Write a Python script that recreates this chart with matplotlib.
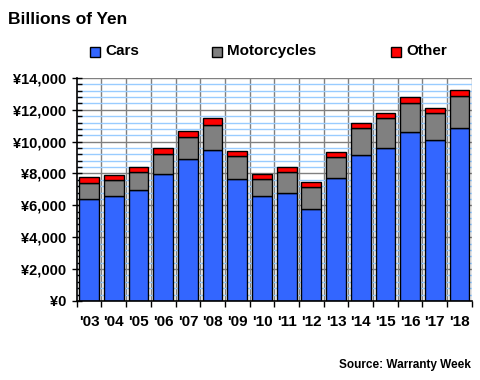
import matplotlib.pyplot as plt
import numpy as np
from matplotlib.ticker import FuncFormatter, MultipleLocator, FixedLocator

plt.rcParams['font.family'] = ['Liberation Sans', 'DejaVu Sans']
plt.rcParams['font.weight'] = 'bold'

years = ["'03", "'04", "'05", "'06", "'07", "'08", "'09", "'10",
         "'11", "'12", "'13", "'14", "'15", "'16", "'17", "'18"]
cars = [6400, 6580, 6960, 7970, 8910, 9480, 7650, 6580,
        6770, 5770, 7710, 9160, 9600, 10610, 10100, 10860]
motorcycles = [1000, 1010, 1130, 1250, 1380, 1570, 1450, 1070,
               1320, 1380, 1330, 1700, 1890, 1820, 1700, 2010]
other = [380, 330, 320, 380, 380, 440, 330, 320,
         320, 310, 310, 310, 310, 380, 320, 380]
names = ['Cars', 'Motorcycles', 'Other']

c_cars = '#3366ff'
c_moto = '#808080'
c_other = '#ff0000'

fig = plt.figure(figsize=(4.8, 3.8), dpi=100)
ax = fig.add_axes([0.160, 0.208, 0.823, 0.587])

x = np.arange(len(years))
cars = np.array(cars)
motorcycles = np.array(motorcycles)
other = np.array(other)
kw = dict(width=0.8, edgecolor='black', linewidth=1.0, zorder=3)
ax.bar(x, cars, color=c_cars, **kw)
ax.bar(x, motorcycles, bottom=cars, color=c_moto, **kw)
ax.bar(x, other, bottom=cars + motorcycles, color=c_other, **kw)

ax.set_xlim(-0.5, len(years) - 0.5)
ax.set_ylim(0, 14000)

ax.yaxis.set_major_locator(MultipleLocator(2000))
ax.yaxis.set_minor_locator(MultipleLocator(400))
ax.yaxis.set_major_formatter(FuncFormatter(lambda v, p: f'\u00a5{int(v):,}'))
ax.grid(axis='y', which='minor', color='#99ccff', linewidth=1.0, zorder=0)
ax.grid(axis='y', which='major', color='#808080', linewidth=1.0, zorder=1)

# category boundaries: gray vertical grid + downward ticks
bounds = np.arange(len(years) + 1) - 0.5
ax.set_xticks(x)
ax.set_xticklabels(years, fontsize=11, fontweight='bold')
ax.xaxis.set_minor_locator(FixedLocator(bounds))
ax.tick_params(axis='x', which='major', length=0, pad=10)
ax.tick_params(axis='x', which='minor', direction='out', length=4.5, width=1.0)
for b in bounds[1:]:
    ax.axvline(b, color='#808080', linewidth=1.0, zorder=1)

ax.tick_params(axis='y', which='major', direction='inout', length=7, width=1.0,
               labelsize=10.5, pad=4)
ax.tick_params(axis='y', which='minor', direction='in', length=3.5, width=1.0)
for lab in ax.get_yticklabels():
    lab.set_fontweight('bold')

ax.spines['top'].set_visible(False)
ax.spines['right'].set_visible(False)
for s in ('left', 'bottom'):
    ax.spines[s].set_linewidth(1.2)
    ax.spines[s].set_zorder(4)

fig.text(8 / 480, 1 - 20 / 380, 'Billions of Yen', fontsize=12.5,
         fontweight='bold', va='center', ha='left')

# legend drawn by hand to keep the wide spacing
lx = [90, 212, 391]
for c, n, px in zip((c_cars, c_moto, c_other), names, lx):
    fig.patches.append(plt.Rectangle((px / 480, 1 - 57 / 380), 10 / 480, 10 / 380,
                                     transform=fig.transFigure, facecolor=c,
                                     edgecolor='black', linewidth=1.0))
    fig.text((px + 15) / 480, 1 - 51 / 380, n, fontsize=11, fontweight='bold',
             va='center', ha='left')

fig.text(471 / 480, 1 - 365 / 380, 'Source: Warranty Week', fontsize=8.5,
         fontweight='bold', va='center', ha='right')

fig.savefig('out.png', dpi=100)
